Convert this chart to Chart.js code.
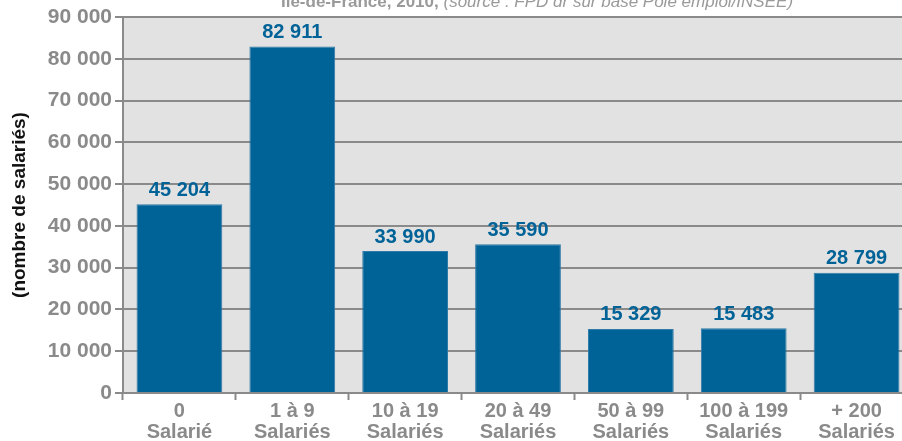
<!DOCTYPE html>
<html>
<head>
<meta charset="utf-8">
<script src="https://cdn.jsdelivr.net/npm/chart.js@4.4.1/dist/chart.umd.min.js"></script>
<style>
  html, body { margin: 0; padding: 0; background: #fff; overflow: hidden; }
  #clip { width: 902px; height: 441px; overflow: hidden; position: relative; }
  #wrap { width: 913px; height: 441px; position: relative; }
</style>
</head>
<body>
<div id="clip"><div id="wrap"><canvas id="chart"></canvas></div></div>
<script>
const categories = [
  ['0', 'Salarié'],
  ['1 à 9', 'Salariés'],
  ['10 à 19', 'Salariés'],
  ['20 à 49', 'Salariés'],
  ['50 à 99', 'Salariés'],
  ['100 à 199', 'Salariés'],
  ['+ 200', 'Salariés']
];
const salaries = [45204, 82911, 33990, 35590, 15329, 15483, 28799];
const yTicks = [0, 10000, 20000, 30000, 40000, 50000, 60000, 70000, 80000, 90000];
const yTitle = '(nombre de salariés)';
const titleMain = 'Île-de-France, 2010, ';
const titleSource = '(source : FPD dr sur base Pôle emploi/INSEE)';

const FONT = '"Liberation Sans Narrow", "Liberation Sans", Arial, sans-serif';
const BLUE = '#006398';
const GREY = '#8a8a8a';

const fmt = v => String(v).replace(/\B(?=(\d{3})+(?!\d))/g, ' ');

// plot background + left/top border (plot runs past the right edge of the picture)
const plotBox = {
  id: 'plotBox',
  beforeDraw(chart) {
    const { ctx, chartArea: a } = chart;
    ctx.save();
    ctx.fillStyle = '#e2e2e2';
    ctx.fillRect(a.left, a.top, a.right - a.left, a.bottom - a.top);
    ctx.restore();
  },
  afterDatasetsDraw(chart) {
    const { ctx, chartArea: a } = chart;
    ctx.save();
    ctx.strokeStyle = GREY;
    ctx.lineWidth = 2;
    ctx.strokeRect(a.left, a.top, a.right - a.left, a.bottom - a.top);
    ctx.restore();
  }
};

// value labels above bars
const barLabels = {
  id: 'barLabels',
  afterDatasetsDraw(chart) {
    const { ctx } = chart;
    const meta = chart.getDatasetMeta(0);
    ctx.save();
    ctx.fillStyle = BLUE;
    ctx.font = 'bold 20px ' + FONT;
    ctx.textAlign = 'center';
    ctx.textBaseline = 'bottom';
    meta.data.forEach((bar, i) => {
      ctx.fillText(fmt(salaries[i]), bar.x, bar.y - 4);
    });
    ctx.restore();
  }
};

// partly clipped title at top
const topTitle = {
  id: 'topTitle',
  afterDraw(chart) {
    const { ctx } = chart;
    ctx.save();
    ctx.fillStyle = '#9a9a9a';
    ctx.textBaseline = 'alphabetic';
    const f1 = 'bold 17px ' + FONT;
    const f2 = 'italic 17px ' + FONT;
    ctx.font = f1;
    const w1 = ctx.measureText(titleMain).width;
    ctx.font = f2;
    const w2 = ctx.measureText(titleSource).width;
    const cx = 537;
    let x = cx - (w1 + w2) / 2;
    const y = 7;
    ctx.font = f1;
    ctx.fillText(titleMain, x, y);
    ctx.font = f2;
    ctx.fillText(titleSource, x + w1, y);
    ctx.restore();
  }
};

new Chart(document.getElementById('chart'), {
  type: 'bar',
  data: {
    labels: categories,
    datasets: [{
      data: salaries,
      backgroundColor: BLUE,
      borderColor: '#2f7aa8',
      borderWidth: 1,
      barPercentage: 0.76,
      categoryPercentage: 1.0
    }]
  },
  options: {
    responsive: true,
    maintainAspectRatio: false,
    animation: false,
    layout: { padding: { top: 17, right: 0, left: 8, bottom: 0 } },
    plugins: {
      legend: { display: false },
      tooltip: { enabled: false }
    },
    scales: {
      x: {
        offset: true,
        afterFit(s) { s.height = 48; },
        grid: {
          display: true,
          offset: true,
          drawOnChartArea: false,
          drawTicks: true,
          tickLength: 7,
          tickWidth: 2,
          color: GREY
        },
        border: { display: false },
        ticks: {
          color: GREY,
          padding: 1,
          maxRotation: 0,
          font: { family: FONT, size: 20, weight: 'bold', lineHeight: 1.05 }
        }
      },
      y: {
        min: 0,
        max: 90000,
        afterFit(s) { s.width = 115; },
        afterBuildTicks(s) { s.ticks = yTicks.map(v => ({ value: v })); },
        grid: {
          color: GREY,
          lineWidth: 2,
          tickLength: 8,
          tickWidth: 2
        },
        border: { display: false },
        title: {
          display: true,
          text: yTitle,
          color: '#111',
          padding: { top: 0, bottom: 12 },
          font: { family: FONT, size: 19, weight: 'bold' }
        },
        ticks: {
          color: GREY,
          padding: 3,
          callback: v => fmt(v),
          font: { family: FONT, size: 21, weight: 'bold' }
        }
      }
    }
  },
  plugins: [plotBox, barLabels, topTitle]
});
</script>
</body>
</html>
